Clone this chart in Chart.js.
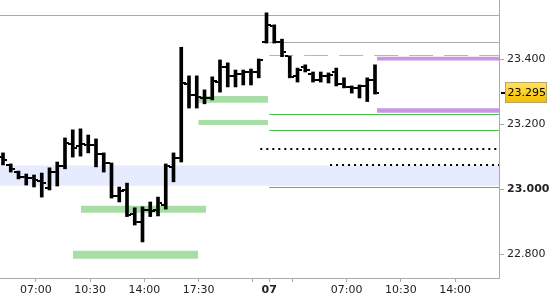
<!DOCTYPE html>
<html>
<head>
<meta charset="utf-8">
<script src="https://cdn.jsdelivr.net/npm/chart.js@4.4.1/dist/chart.umd.min.js"></script>
<style>
  html, body { margin: 0; padding: 0; background: #fff; }
  #chart { display: block; }
</style>
</head>
<body>
<canvas id="chart" width="550" height="300"></canvas>
<script>
// 30 min bars, two sessions, slot index on the x axis
const slots = [0,1,2,3,4,5,6,7,8,9,10,11,12,13,14,15,16,17,18,19,20,21,22,23,24,
  25,26,27,28,29,30,31,32,33,34,35,36,37,38,39,40,41,42,43,44,45,46,47,48];

const openVals = [23.099,23.075,23.053,23.038,23.035,23.026,23.004,23.053,23.072,23.139,
  23.133,23.136,23.136,23.109,23.081,22.979,22.998,22.924,22.899,22.936,
  22.936,22.952,23.069,23.096,23.324,23.290,23.281,23.281,23.330,23.376,
  23.349,23.355,23.361,23.361,23.453,23.502,23.453,23.410,23.349,23.376,
  23.355,23.336,23.349,23.361,23.324,23.315,23.312,23.318,23.336];
const highVals = [23.112,23.078,23.056,23.047,23.044,23.050,23.066,23.084,23.158,23.183,
  23.186,23.167,23.155,23.112,23.081,23.007,23.019,22.943,22.946,22.961,
  22.976,23.078,23.112,23.437,23.349,23.349,23.306,23.346,23.398,23.389,
  23.367,23.367,23.370,23.401,23.543,23.506,23.462,23.410,23.373,23.383,
  23.361,23.361,23.358,23.373,23.343,23.318,23.321,23.343,23.383];
const lowVals = [23.075,23.053,23.032,23.013,23.007,22.976,22.998,23.010,23.063,23.099,
  23.102,23.112,23.069,23.053,22.973,22.961,22.916,22.890,22.838,22.916,
  22.918,22.939,23.023,23.084,23.250,23.250,23.263,23.275,23.299,23.315,
  23.315,23.321,23.321,23.343,23.450,23.450,23.408,23.343,23.330,23.361,
  23.330,23.330,23.327,23.318,23.312,23.296,23.281,23.270,23.293];
const closeVals = [23.090,23.063,23.038,23.035,23.029,23.019,23.053,23.072,23.143,23.127,
  23.139,23.136,23.109,23.081,22.979,22.995,22.921,22.899,22.936,22.933,
  22.958,23.072,23.096,23.327,23.290,23.284,23.281,23.333,23.376,23.349,
  23.355,23.361,23.361,23.398,23.506,23.453,23.423,23.346,23.367,23.367,
  23.336,23.349,23.352,23.324,23.315,23.312,23.318,23.336,23.295];

// axes
const xMin = -0.387, xMax = 64.0;
const yMin = 22.727, yMax = 23.5825;
const xTickPos = [4.25, 11.25, 18.25, 25.25, 32.25, 34.35, 37.35, 44.35, 51.35, 58.35];
const xTickLabels = ['07:00', '10:30', '14:00', '17:30', '', '07', '', '07:00', '10:30', '14:00'];
const yTickVals = [22.8, 23.0, 23.2, 23.4];

// level lines (price, from slot, to slot)
const grayLevels = [23.5348, 23.4517];
const grayFrom = [xMin, 34.35];
const orangeLevel = [23.4117];
const orangeFrom = [34.35];
const greenLevels = [23.2302, 23.181, 23.0056];
const greenFrom = [34.35, 34.35, 34.35];
const dottedLevels = [23.124, 23.0748];
const dottedFrom = [33.2, 42.2];

// zones (top, bottom, from slot, to slot)
const blueTop = [23.073], blueBottom = [23.011];
const greenZoneTop = [23.287, 23.213, 22.949, 22.811];
const greenZoneBottom = [23.266, 23.198, 22.928, 22.786];
const greenZoneFrom = [25.2, 25.2, 10.06, 9.03];
const greenZoneTo = [34.2, 34.2, 26.2, 25.16];
const purpleTop = [23.408, 23.2494];
const purpleBottom = [23.396, 23.2357];
const purpleFrom = [48.25, 48.25];

function tickCanvas(side) {
  const c = document.createElement('canvas');
  c.width = 9; c.height = 2;
  const g = c.getContext('2d');
  g.fillStyle = '#000';
  g.fillRect(side === 'left' ? 0 : 6, 0, 3, 2);
  return c;
}

function hLine(y, x0, x1, color, width, dash) {
  return {
    type: 'line', data: [{x: x0, y: y}, {x: x1, y: y}],
    borderColor: color, borderWidth: width, borderDash: dash || [],
    pointRadius: 0, fill: false, order: 5
  };
}

function zone(top, bottom, x0, x1, color) {
  return [
    { type: 'line', data: [{x: x0, y: top}, {x: x1, y: top}], borderWidth: 0,
      pointRadius: 0, fill: '+1', backgroundColor: color, order: 10 },
    { type: 'line', data: [{x: x0, y: bottom}, {x: x1, y: bottom}], borderWidth: 0,
      pointRadius: 0, fill: false, order: 10 }
  ];
}

const datasets = [];
blueTop.forEach((t, i) => datasets.push(...zone(t, blueBottom[i], xMin, xMax, 'rgb(230,236,253)')));
greenZoneTop.forEach((t, i) => datasets.push(...zone(t, greenZoneBottom[i], greenZoneFrom[i], greenZoneTo[i], 'rgb(168,222,166)')));
purpleTop.forEach((t, i) => datasets.push(...zone(t, purpleBottom[i], purpleFrom[i], xMax, 'rgb(200,150,228)')));
grayLevels.forEach((p, i) => datasets.push(hLine(p, grayFrom[i], xMax, '#aaaaaa', 1)));
orangeLevel.forEach((p, i) => datasets.push(hLine(p, orangeFrom[i], xMax, '#f0b040', 1, [24, 11])));
greenLevels.forEach((p, i) => datasets.push(hLine(p, greenFrom[i], xMax, '#44c044', 1)));
dottedLevels.forEach((p, i) => datasets.push(hLine(p, dottedFrom[i], xMax, '#000000', 2, [2, 4])));

// OHLC: high-low bars plus open / close ticks
datasets.push({
  type: 'bar',
  data: slots.map((s, i) => ({x: s, y: [lowVals[i], highVals[i]]})),
  backgroundColor: '#000', barThickness: 3, grouped: false, order: 1
});
datasets.push({
  type: 'line', showLine: false,
  data: slots.map((s, i) => ({x: s, y: openVals[i]})),
  pointStyle: tickCanvas('left'), pointRadius: 3, order: 0
});
datasets.push({
  type: 'line', showLine: false,
  data: slots.map((s, i) => ({x: s, y: closeVals[i]})),
  pointStyle: tickCanvas('right'), pointRadius: 3, order: 0
});

const lastPriceTag = {
  id: 'lastPriceTag',
  afterDraw(chart) {
    const ys = chart.scales.y;
    const area = chart.chartArea;
    const v = closeVals[closeVals.length - 1];
    const y = Math.round(ys.getPixelForValue(v));
    const ctx = chart.ctx;
    ctx.save();
    ctx.fillStyle = '#000';
    ctx.fillRect(area.right + 2, y - 1, 4, 2);
    const bx = area.right + 6.5, bw = 41, bh = 20, by = y - 10.5;
    const g = ctx.createLinearGradient(0, by, 0, by + bh);
    g.addColorStop(0, '#ffe45a');
    g.addColorStop(1, '#f4bd00');
    ctx.fillStyle = g;
    ctx.fillRect(bx, by, bw, bh);
    ctx.strokeStyle = '#b9a66a';
    ctx.lineWidth = 1;
    ctx.strokeRect(bx, by, bw, bh);
    ctx.fillStyle = '#000';
    ctx.font = '11px "DejaVu Sans"';
    ctx.textBaseline = 'middle';
    ctx.fillText(v.toFixed(3), bx + 2, y + 0.5);
    ctx.restore();
  }
};

new Chart(document.getElementById('chart'), {
  type: 'bar',
  data: { datasets: datasets },
  plugins: [lastPriceTag],
  options: {
    responsive: false,
    animation: false,
    events: [],
    layout: { padding: 0, autoPadding: false },
    plugins: { legend: { display: false }, tooltip: { enabled: false } },
    scales: {
      x: {
        type: 'linear', min: xMin, max: xMax, offset: false,
        afterBuildTicks: s => { s.ticks = xTickPos.map(v => ({value: v})); },
        afterFit: s => { s.height = 22; s.paddingLeft = 0; s.paddingRight = 0; },
        grid: { drawOnChartArea: false, tickLength: 4, color: '#aaaaaa', offset: false },
        border: { color: '#aaaaaa' },
        ticks: {
          autoSkip: false, maxRotation: 0, padding: 2, color: '#222',
          font: c => ({ family: 'DejaVu Sans', size: 11,
            weight: xTickLabels[c.index] === '07' ? 'bold' : 'normal' }),
          callback: (v, i) => xTickLabels[i]
        }
      },
      y: {
        type: 'linear', position: 'right', min: yMin, max: yMax,
        afterBuildTicks: s => { s.ticks = yTickVals.map(v => ({value: v})); },
        afterFit: s => { s.width = 51; s.paddingTop = 0; s.paddingBottom = 0; },
        grid: { drawOnChartArea: false, tickLength: 5, color: '#aaaaaa' },
        border: { color: '#aaaaaa' },
        ticks: {
          padding: 3, color: '#222',
          font: c => ({ family: 'DejaVu Sans', size: 11,
            weight: c.tick && c.tick.value === 23 ? 'bold' : 'normal' }),
          callback: v => v.toFixed(3)
        }
      }
    }
  }
});
</script>
</body>
</html>
